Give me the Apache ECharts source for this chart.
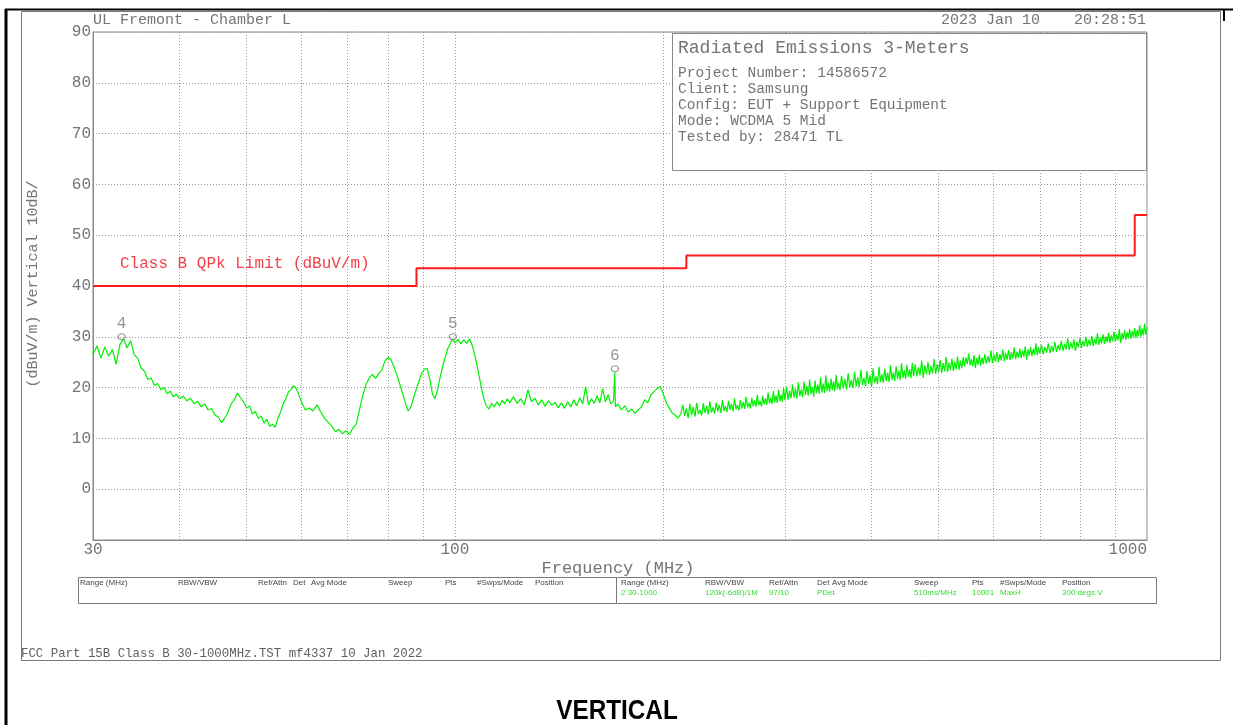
<!DOCTYPE html>
<html><head><meta charset="utf-8">
<script src="https://cdn.jsdelivr.net/npm/echarts@6/dist/echarts.min.js"></script>
<style>html,body{margin:0;padding:0;background:#fff;}#c{width:1233px;height:725px;}</style>
</head><body><div id="c"></div>
<script>
// ---- data ----
const traceLow = [[30.0,26.5],[30.4,28.2],[30.8,25.8],[31.2,28.0],[31.6,26.2],[32.0,27.5],[32.4,24.6],[32.8,28.4],[33.2,29.6],[33.6,27.8],[34.0,29.2],[34.4,26.5],[34.8,25.8],[35.2,23.9],[35.6,23.2],[36.0,21.6],[36.4,21.9],[36.8,20.4],[37.2,20.8],[37.6,19.6],[38.0,20.0],[38.4,18.8],[38.8,19.3],[39.2,18.2],[39.6,18.7],
[40.0,17.8],[40.5,18.3],[41.0,17.4],[41.5,17.9],[42.0,16.8],[42.5,17.3],[43.0,16.2],[43.5,16.8],[44.0,15.6],[44.5,15.9],[45.0,14.6],[45.5,14.2],[46.0,13.1],[46.5,14.0],[47.0,15.2],[47.5,16.8],[48.0,17.6],[48.5,18.9],[49.0,18.0],[49.5,17.2],
[50.0,16.0],[50.5,16.4],[51.0,14.8],[51.5,15.3],[52.0,13.9],[52.5,14.4],[53.0,13.0],[53.5,13.8],[54.0,12.4],[54.5,12.8],[55.0,12.2],[55.5,14.0],[56.0,15.2],[56.5,16.9],[57.0,17.8],[57.5,19.2],[58.0,19.6],[58.5,20.4],[59.0,19.8],[59.5,18.6],
[60.0,17.2],[60.8,15.6],[61.6,16.0],[62.4,15.4],[63.2,16.6],[64.0,15.2],[64.8,14.0],[65.6,13.2],[66.4,12.4],[67.2,11.3],[68.0,11.8],[68.8,10.9],[69.6,11.5],[70.4,10.8],[71.2,12.0],[72.0,12.8],[72.8,15.6],[73.6,18.4],[74.4,20.6],[75.2,21.9],[76.0,22.6],[76.8,21.8],[77.6,22.8],[78.4,23.4],[79.2,25.2],[80.0,25.9],
[80.8,25.6],[81.6,24.2],[82.4,22.6],[83.2,20.8],[84.0,18.9],[84.8,17.0],[85.6,15.4],[86.4,16.2],[87.2,18.1],[88.0,19.8],[88.8,21.4],[89.6,22.9],[90.4,23.6],[91.2,23.8],[92.0,21.6],[92.8,18.8],[93.6,17.8],[94.4,19.6],[95.2,22.0],[96.0,24.2],[96.8,25.9],[97.6,27.6],[98.4,28.6],[99.2,29.6]];
const traceMid = [[100,28.8],[101,29.5],[102,28.6],[103,29.4],[104,28.7],[105,29.6],[106,28.2],[107,26.0],[108,23.4],[109,20.6],[110,18.0],[111,16.4],[112,15.8],[113,16.9],[114,16.2],[115,17.2],[116,16.4],[117,17.5],[118,16.8],[119,17.8],[120,17.0],[121.5,18.2],[123,16.9],[124.5,17.8],[126,16.6],[127.5,19.6],[129,17.2],[130.5,17.9],[132,16.6],[133.5,17.6],[135,16.3],[136.5,17.4],[138,16.5],[139.5,17.1],[141,16.0],[142.5,17.0],[144,15.9],[145.5,17.2],[147,16.2],[148.5,17.6],[150,16.4],[151.5,18.0],[153,16.8],[154.5,20.2],[156,16.6],[157.5,17.8],[159,16.9],[160.5,18.4],[162,17.0],[163.5,19.8],[165,17.2],[166.5,18.6],[168,16.8],[169.5,17.4],[170.2,23.0],[170.6,16.2],[172,16.8],[174,15.6],[176,16.4],[178,15.2],[180,15.8],[182,14.9],[184,15.6],[186,16.2],[188,17.6],[190,17.0],[192,18.6],[194,19.2],[196,19.8],[198,20.2],[200,18.8],[202,17.0],[204,16.0],[206,15.0],[208,14.6],[210,14.0],[212,14.8],
[213.5,16.6],[214.8,14.4],[216,15.9],[217.3,14.0],[218.5,16.8],[219.8,14.6],[221,16.2],[222.3,14.3],[223.5,17.0],[224.8,14.8],[226,15.6],[227.3,14.5],[228.5,16.9],[229.8,15.0],[231,16.4],[232.3,14.7],[233.5,17.3],[234.8,15.1],[236,16.1],[237.3,14.9],[238.5,17.0],[239.8,15.3],[241,16.6],[242.3,15.0],[243.5,17.6],[244.8,15.4],[246,16.4],[247.3,15.2],[248.5,17.4],[249.8,15.6],[251,16.8],[252.3,15.3],[253.5,17.9],[254.8,15.7],[256,16.6],[257.3,15.5],[258.5,17.6],[259.8,15.9],[261,17.2],[262.3,15.8],[263.5,18.2],[264.8,16.1],[266,17.0],[267.3,15.9],[268.5,18.0],[269.8,16.3],[271,17.5],[272.3,16.2],[273.5,18.6],[274.8,16.5],[276,17.4],[277.3,16.3],[278.5,18.4],[279.8,16.7],[281,17.9],[282.3,16.6],[283.5,19.0],[284.8,16.9],[286,18.0],[287.3,16.8],[288.5,19.3],[289.8,17.1],[291,18.4],[292.3,17.0],[293.5,19.6],[294.8,17.3],[296,18.6],[297.3,17.2],[298.5,19.9],[299.8,17.5]];
const traceHigh = [[301.5,20.2],[303,17.6],[304.5,19.4],[306,17.9],[307.5,20.6],[309,18.0],[310.5,19.8],[312,17.8],[313.5,21.0],[315,18.3],[316.5,19.6],[318,18.1],[319.5,21.2],[321,18.5],[322.5,20.3],[324,18.4],[325.5,21.6],[327,18.7],[328.5,20.1],[330,18.2],[331.5,21.4],[333,18.9],[334.5,20.6],[336,18.8],[337.5,22.0],[339,19.1],[340.5,20.8],[342,18.9],[343.5,22.4],[345,19.3],[346.5,20.9],[348,19.2],[349.5,21.8],[351,19.5],[352.5,21.2],[354,19.3],[355.5,22.5],[357,19.7],[358.5,21.0],[360,19.5],
[362,22.3],[364,19.8],[366,21.7],[368,19.6],[370,22.8],[372,20.1],[374,21.5],[376,19.9],[378,23.1],[380,20.3],[382,22.0],[384,20.1],[386,23.5],[388,20.5],[390,21.9],[392,20.3],[394,23.3],[396,20.7],[398,22.4],[400,20.2],[402,23.8],[404,20.9],[406,22.2],[408,20.7],[410,24.1],[412,21.1],[414,22.6],[416,20.9],[418,23.7],[420,21.3],[422,22.9],[424,21.1],[426,24.4],[428,21.5],[430,23.0],[432,21.3],[434,24.2],[436,21.7],[438,23.3],[440,21.5],[442,24.8],[444,21.9],[446,23.4],[448,21.7],[450,24.5],[452,22.1],[454,23.6],[456,21.9],[458,24.9],[460,22.3],
[462.5,24.6],[465,22.2],[467.5,24.0],[470,22.4],[472.5,25.3],[475,21.9],[477.5,24.4],[480,22.6],[482.5,25.0],[485,22.5],[487.5,24.3],[490,22.8],[492.5,25.6],[495,22.7],[497.5,24.6],[500,23.0],[502.5,25.4],[505,22.9],[507.5,24.8],[510,23.2],[512.5,26.0],[515,23.1],[517.5,24.9],[520,23.4],[522.5,25.7],[525,23.3],[527.5,25.1],[530,23.6],[532.5,26.1],[535,23.5],[537.5,25.3],[540,23.8],[542.5,26.0],[545,24.1],[547.5,25.9],[550,24.6],[552.5,26.7],[555,24.4],[557.5,25.6],[560,24.2],[562.5,26.4],[565,23.8],[567.5,25.8],[570,24.5],[572.5,26.5],[575,24.3],[577.5,25.9],[580,24.6],
[583,26.6],[586,24.7],[589,26.2],[592,24.9],[595,27.3],[598,24.8],[601,26.5],[604,25.1],[607,27.0],[610,25.0],[613,26.6],[616,25.3],[619,27.5],[622,25.2],[625,26.8],[628,25.5],[631,27.4],[634,25.4],[637,27.0],[640,25.7],[643,27.9],[646,25.6],[649,27.1],[652,25.9],[655,27.7],[658,25.8],[661,27.3],[664,26.1],[667,28.1],[670,25.5],[673,27.5],[676,26.3],[679,28.0],[682,26.2],[685,27.6],[688,26.5],[691,28.7],[694,26.4],[697,27.9],[700,26.7],
[704,28.4],[708,26.6],[712,28.0],[716,26.9],[720,28.7],[724,26.8],[728,28.2],[732,27.1],[736,29.0],[740,27.0],[744,28.4],[748,27.3],[752,29.2],[756,27.2],[760,28.6],[764,27.5],[768,29.7],[772,27.4],[776,28.9],[780,27.7],[784,29.5],[788,27.2],[792,29.0],[796,27.9],[800,29.8],[804,27.8],[808,29.2],[812,28.1],[816,30.0],[820,28.0],[824,29.4],[828,28.3],[832,30.2],[836,28.2],[840,29.6],[844,28.5],[848,30.7],[852,28.4],[856,29.9],[860,28.7],[864,30.5],[868,28.6],[872,30.1],[876,28.9],[880,30.8],[884,28.8],[888,30.3],[892,29.1],[896,31.0],[900,29.0],[904,30.5],[908,29.3],[912,31.5],[916,28.8],[920,30.7],[924,29.5],[928,31.3],[932,29.4],[936,30.9],[940,29.7],[944,31.5],[948,29.6],[952,31.1],[956,29.9],[960,31.7],[964,29.8],[968,31.3],[972,30.1],[976,32.3],[980,30.0],[984,31.6],[988,30.3],[992,32.6],[996,30.4],[1000,31.8]];
const limitFreqs  = [30, 88, 88, 216, 216, 960, 960, 1000];
const limitLevels = [40, 40, 43.5, 43.5, 46, 46, 54, 54];
const markerNames  = ['4', '5', '6'];
const markerFreqs  = [33.0, 99.3, 170.3];
const markerLevels = [30.0, 30.0, 23.7];
const gridFreqs = [40, 50, 60, 70, 80, 90, 100, 200, 300, 400, 500, 600, 700, 800, 900];
const xTickLabels = ['30', '100', '1000'];
const yTickLabels = ['0', '10', '20', '30', '40', '50', '60', '70', '80', '90'];
const infoLines = ['Project Number: 14586572', 'Client: Samsung', 'Config: EUT + Support Equipment', 'Mode: WCDMA 5 Mid', 'Tested by: 28471 TL'];
const tableHeaders = ['Range (MHz)', 'RBW/VBW', 'Ref/Attn', 'Det', 'Avg Mode', 'Sweep', 'Pts', '#Swps/Mode', 'Position'];
const tableValues = ['2 30-1000', '120k(-6dB)/1M', '97/10', 'PDet', '-', '510ms/MHz', '10001', 'MaxH', '300 degs V'];

// ---- layout ----
const MONO = "'Liberation Mono','DejaVu Sans Mono',monospace";
const GRAY = '#747474';
const chart = echarts.init(document.getElementById('c'), null, {renderer: 'canvas'});

function txt(x, y, s, size, color, align, extra) {
  return Object.assign({type: 'text', x: x, y: y, z: 60, silent: true,
    style: {text: s, fontSize: size, fontFamily: MONO, fill: color,
      textAlign: align || 'left', textVerticalAlign: 'middle', align: align || 'left', verticalAlign: 'middle'}}, extra || {});
}

const leftHeaderX  = [80, 178, 258, 293, 311, 388, 445, 477, 535];
const rightHeaderX = [621, 705, 769, 817, 832, 914, 972, 1000, 1062];
const graphics = [
  // outer frame
  {type: 'line', z: 70, shape: {x1: 6, y1: 9, x2: 6, y2: 725}, style: {stroke: '#000', lineWidth: 3}},
  {type: 'line', z: 70, shape: {x1: 5, y1: 9.5, x2: 1233, y2: 9.5}, style: {stroke: '#000', lineWidth: 2}},
  {type: 'line', z: 70, shape: {x1: 1224, y1: 9, x2: 1224, y2: 21}, style: {stroke: '#000', lineWidth: 2}},
  {type: 'rect', z: 1, shape: {x: 21.5, y: 11.5, width: 1199, height: 649}, style: {fill: 'none', stroke: '#7a7a7a', lineWidth: 1}},
  // header texts
  txt(93, 20, 'UL Fremont - Chamber L', 15, GRAY),
  txt(941, 20, '2023 Jan 10', 15, GRAY),
  txt(1146, 20, '20:28:51', 15, GRAY, 'right'),
  // info box
  {type: 'rect', z: 50, shape: {x: 672.5, y: 33.5, width: 474, height: 137}, style: {fill: '#fff', stroke: '#8a8a8a', lineWidth: 1}},
  txt(678, 48, 'Radiated Emissions 3-Meters', 18, GRAY),
  // y axis name
  txt(33, 284, '(dBuV/m) Vertical 10dB/', 15, GRAY, 'center', {rotation: Math.PI / 2}),
  // limit label
  txt(120, 264, 'Class B QPk Limit (dBuV/m)', 16, '#f2414d'),
  // x axis name
  txt(618, 568, 'Frequency (MHz)', 17, GRAY, 'center'),
  // table
  {type: 'rect', z: 50, shape: {x: 78.5, y: 577.5, width: 1078, height: 26}, style: {fill: '#fff', stroke: '#7a7a7a', lineWidth: 1}},
  {type: 'line', z: 51, shape: {x1: 616.5, y1: 577.5, x2: 616.5, y2: 603.5}, style: {stroke: '#7a7a7a', lineWidth: 1}},
  // footer
  txt(21, 654, 'FCC Part 15B Class B 30-1000MHz.TST mf4337 10 Jan 2022', 12.4, '#606060'),
  {type: 'text', x: 617, y: 712, z: 60, scaleX: 0.9, silent: true,
   style: {text: 'VERTICAL', fontSize: 27, fontWeight: 'bold', fontFamily: "'Liberation Sans',Arial,sans-serif", fill: '#000',
     textAlign: 'center', textVerticalAlign: 'middle', align: 'center', verticalAlign: 'middle'}}
];
infoLines.forEach((s, i) => graphics.push(txt(678, 73 + i * 16, s, 14.5, GRAY)));
tableHeaders.forEach((s, i) => {
  graphics.push({type: 'text', x: leftHeaderX[i], y: 583, z: 60, silent: true,
    style: {text: s, fontSize: 8, fontFamily: "'Liberation Sans',sans-serif", fill: '#444', textVerticalAlign: 'middle', verticalAlign: 'middle'}});
  graphics.push({type: 'text', x: rightHeaderX[i], y: 583, z: 60, silent: true,
    style: {text: s, fontSize: 8, fontFamily: "'Liberation Sans',sans-serif", fill: '#444', textVerticalAlign: 'middle', verticalAlign: 'middle'}});
  graphics.push({type: 'text', x: rightHeaderX[i], y: 593, z: 60, silent: true,
    style: {text: tableValues[i], fontSize: 8, fontFamily: "'Liberation Sans',sans-serif", fill: '#33dd33', textVerticalAlign: 'middle', verticalAlign: 'middle'}});
});

const trace = traceLow.concat(traceMid, traceHigh);
const limit = limitFreqs.map((f, i) => [f, limitLevels[i]]);
const markers = markerFreqs.map((f, i) => ({name: markerNames[i], value: [f, markerLevels[i]]}));

chart.setOption({
  animation: false,
  backgroundColor: '#fff',
  grid: {left: 93, top: 32, width: 1054, height: 508, show: true, borderColor: '#8a8a8a', borderWidth: 1, backgroundColor: 'transparent'},
  xAxis: {
    type: 'log', logBase: 10, min: 30, max: 1000,
    axisLine: {show: true, onZero: false, lineStyle: {color: '#8a8a8a', width: 1}},
    axisTick: {show: false}, splitLine: {show: false}, minorTick: {show: false},
    axisLabel: {show: true, showMinLabel: true, showMaxLabel: true, alignMaxLabel: 'right', margin: 2,
      fontFamily: MONO, fontSize: 16, color: GRAY,
      formatter: v => { const r = Math.round(v); return xTickLabels.indexOf(String(r)) >= 0 ? String(r) : ''; }}
  },
  yAxis: {
    type: 'value', min: -10, max: 90, interval: 10,
    axisLine: {show: true, lineStyle: {color: '#8a8a8a', width: 1}},
    axisTick: {show: false},
    splitLine: {show: true, lineStyle: {color: '#9a9a9a', width: 1, type: [1, 2]}},
    axisLabel: {margin: 2, fontFamily: MONO, fontSize: 16, color: GRAY,
      formatter: v => yTickLabels.indexOf(String(v)) >= 0 ? String(v) : ''}
  },
  graphic: graphics,
  series: [
    {type: 'line', data: [], z: 1, silent: true,
     markLine: {silent: true, symbol: 'none', label: {show: false}, animation: false,
       lineStyle: {color: '#9a9a9a', width: 1, type: [1, 2]},
       data: gridFreqs.map(f => ({xAxis: f}))}},
    {type: 'line', data: limit, z: 4, symbol: 'none', silent: true,
     lineStyle: {color: '#ff1a1a', width: 2}},
    {type: 'line', data: trace, z: 3, symbol: 'none', silent: true,
     lineStyle: {color: '#00f000', width: 1.2}},
    {type: 'scatter', data: markers, z: 6, symbol: 'circle', symbolSize: [7, 6], silent: true,
     itemStyle: {color: 'rgba(255,255,255,0)', borderColor: '#777', borderWidth: 1.2},
     label: {show: true, position: 'top', distance: 1, formatter: p => p.name, fontFamily: MONO, fontSize: 16, color: '#777'}}
  ]
});
</script></body></html>
